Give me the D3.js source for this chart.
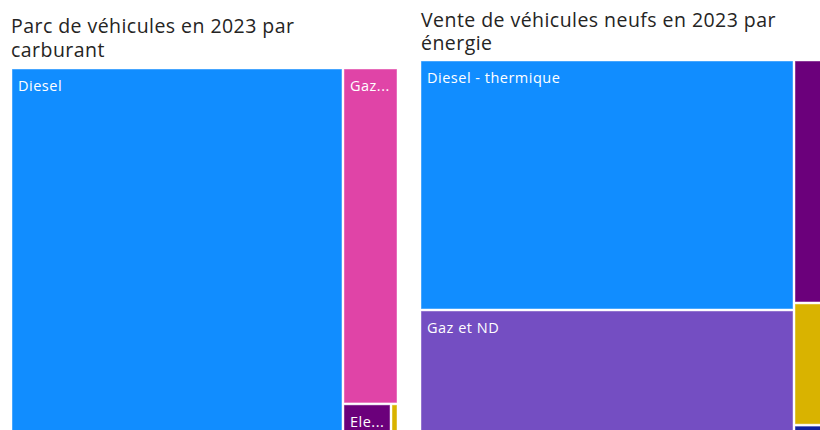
<!DOCTYPE html>
<html>
<head>
<meta charset="utf-8">
<script src="https://cdn.jsdelivr.net/npm/d3@7"></script>
<style>
  html, body { margin: 0; padding: 0; background: #ffffff; overflow: hidden; }
  svg { display: block; }
</style>
</head>
<body>
<svg id="chart" width="820" height="430"></svg>
<script>
// ---- Data ----
const parcTitle = ["Parc de véhicules en 2023 par", "carburant"];
const parcCategories = ["Diesel", "Gaz et ND", "Electrique", "Hybride"];
const parcValues = [85.79, 12.57, 1.44, 0.21];
const parcColors = ["#118DFF", "#E044A7", "#6B007B", "#D9B300"];

const venteTitle = ["Vente de véhicules neufs en 2023 par", "énergie"];
const venteCategories = ["Diesel - thermique", "Gaz et ND", "Electrique", "Hybride", "Hydrogène"];
const venteValues = [58.47, 32.75, 5.47, 2.75, 0.56];
const venteColors = ["#118DFF", "#744EC2", "#6B007B", "#D9B300", "#12239E"];

const svg = d3.select("#chart");
const titleFont = "'Open Sans', 'Noto Sans', sans-serif";
const labelFont = "'Open Sans', 'Noto Sans', sans-serif";

function drawTreemap(cfg) {
  const g = svg.append("g");
  // title
  const t = g.append("text")
    .attr("x", cfg.titleX)
    .attr("y", cfg.titleY)
    .attr("fill", "#252423")
    .style("font-family", titleFont)
    .style("font-size", "19.5px")
    .style("letter-spacing", "0.45px");
  cfg.title.forEach((line, i) => {
    t.append("tspan").attr("x", cfg.titleX).attr("dy", i === 0 ? 0 : cfg.lineH).text(line);
  });

  const data = {
    name: "root",
    children: cfg.categories.map((c, i) => ({ name: c, value: cfg.values[i], color: cfg.colors[i] }))
  };
  const root = d3.hierarchy(data).sum(d => d.value || 0).sort((a, b) => b.value - a.value);
  d3.treemap().tile(d3.treemapSquarify).size([cfg.w, cfg.h]).round(false)(root);

  const tiles = g.append("g").attr("transform", `translate(${cfg.x},${cfg.y})`);
  const leaf = tiles.selectAll("g").data(root.leaves()).join("g");
  leaf.append("rect")
    .attr("x", d => d.x0 + 1)
    .attr("y", d => d.y0 + 1)
    .attr("width", d => Math.max(0, d.x1 - d.x0 - 2))
    .attr("height", d => Math.max(0, d.y1 - d.y0 - 2))
    .attr("fill", d => d.data.color)
    .attr("stroke", "rgba(255,255,255,0.45)")
    .attr("stroke-width", 1);

  leaf.each(function (d) {
    const w = d.x1 - d.x0 - 2;
    const h = d.y1 - d.y0 - 2;
    if (h < 26) return;
    const txt = d3.select(this).append("text")
      .attr("x", d.x0 + 7)
      .attr("y", d.y0 + 23)
      .attr("fill", "#ffffff")
      .style("font-family", labelFont)
      .style("font-size", "14.5px")
      .style("letter-spacing", "0.5px")
      .text(d.data.name);
    const avail = w - 8;
    const node = txt.node();
    if (node.getComputedTextLength() <= avail) return;
    const full = d.data.name;
    let n = full.length - 1;
    let ok = false;
    while (n >= 3) {
      txt.text(full.slice(0, n).trimEnd() + "...");
      if (node.getComputedTextLength() <= avail) { ok = true; break; }
      n--;
    }
    if (!ok) txt.remove();
  });
}

drawTreemap({
  title: parcTitle, titleX: 11, titleY: 33, lineH: 24,
  categories: parcCategories, values: parcValues, colors: parcColors,
  x: 11, y: 68, w: 387, h: 380
});

drawTreemap({
  title: venteTitle, titleX: 421, titleY: 27, lineH: 23,
  categories: venteCategories, values: venteValues, colors: venteColors,
  x: 420, y: 60, w: 410, h: 390
});
</script>
</body>
</html>
